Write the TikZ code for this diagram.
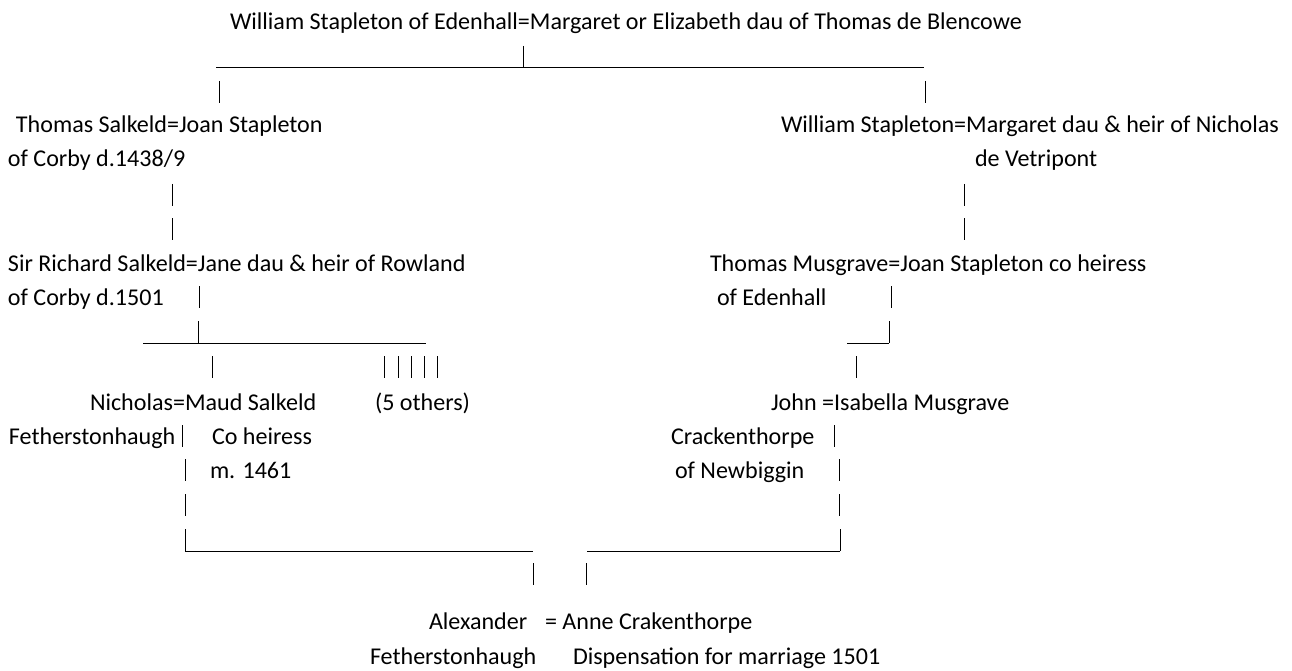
\documentclass[tikz,border=0pt]{standalone}
\usepackage{fontspec}
\setmainfont{Carlito}
\tikzset{
  txt/.style={anchor=base west, inner sep=0pt, outer sep=0pt, font=\tfont},
  rule/.style={line width=1pt, line cap=butt, black},
}
\newlength\titlewd
\newcommand\mkpipe[3]{\coordinate (#1) at (#2,#3-19); \coordinate (#1e) at (#2,#3+3); \draw[rule] (#1) -- (#1e);}
\newcommand\mkunder[4]{\coordinate (#1) at (#2,#4+3); \coordinate (#1e) at (#3,#4+3); \draw[rule] (#1) -- (#1e);}
\begin{document}
\settowidth\titlewd{\fontsize{10pt}{12pt}\selectfont William Stapleton of Edenhall=Margaret or Elizabeth dau of Thomas de Blencowe}%
\pgfmathsetmacro\fsz{10*792/\the\titlewd}%
\def\tfont{\fontsize{\fsz pt}{\fsz pt}\selectfont}%
\begin{tikzpicture}[x=1pt,y=-1pt]
\fill[white] (0,0) rectangle (1292,671);
\useasboundingbox (0,0) rectangle (1292,671);
% texts
\node[txt] (t0) at (230,30) {William Stapleton of Edenhall=Margaret or Elizabeth dau of Thomas de Blencowe};
\node[txt] (t3a) at (16,133) {Thomas Salkeld=Joan Stapleton};
\node[txt] (t3b) at (781,133) {William Stapleton=Margaret dau \& heir of Nicholas};
\node[txt] (t4a) at (8,167) {of Corby d.1438/9};
\node[txt] (t4b) at (975,167) {de Vetripont};
\node[txt] (t7a) at (8,271) {Sir Richard Salkeld=Jane dau \& heir of Rowland};
\node[txt] (t7b) at (710,271) {Thomas Musgrave=Joan Stapleton co heiress};
\node[txt] (t8a) at (8,305) {of Corby d.1501};
\node[txt] (t8b) at (717,305) {of Edenhall};
\node[txt] (t11a) at (90,410) {Nicholas=Maud Salkeld};
\node[txt] (t11b) at (375,410) {(5 others)};
\node[txt] (t11c) at (771,410) {John =Isabella Musgrave};
\node[txt] (t12a) at (9,444) {Fetherstonhaugh};
\node[txt] (t12b) at (212,444) {Co heiress};
\node[txt] (t12c) at (671,444) {Crackenthorpe};
\node[txt] (t13a) at (210,478) {m. 1461};
\node[txt] (t13b) at (675,478) {of Newbiggin};
\node[txt] (t17a) at (429,629) {Alexander};
\node[txt] (t17b) at (545,629) {= Anne Crakenthorpe};
\node[txt] (t18a) at (370,664) {Fetherstonhaugh};
\node[txt] (t18b) at (573,664) {Dispensation for marriage 1501};
% rules
\mkunder{u1}{216}{924}{65}
\mkpipe{p1}{523}{65}
\mkpipe{p2a}{219}{100}
\mkpipe{p2b}{925}{100}
\mkpipe{p5a}{172}{203}
\mkpipe{p5b}{964}{203}
\mkpipe{p6a}{172}{237}
\mkpipe{p6b}{964}{237}
\mkpipe{p8a}{199}{305}
\mkpipe{p8b}{891}{305}
\mkunder{u9a}{143}{426}{340}
\mkpipe{p9a}{198}{340}
\mkunder{u9b}{847}{889}{340}
\mkpipe{p9b}{889}{340}
\mkpipe{p10a}{212}{375}
\mkpipe{p10b}{384}{375}
\mkpipe{p10c}{398}{375}
\mkpipe{p10d}{411}{375}
\mkpipe{p10e}{424}{375}
\mkpipe{p10f}{437}{375}
\mkpipe{p10g}{856}{375}
\mkpipe{p12a}{182}{444}
\mkpipe{p12b}{834}{444}
\mkpipe{p13a}{185}{478}
\mkpipe{p13b}{839}{478}
\mkpipe{p14a}{185}{513}
\mkpipe{p14b}{839}{513}
\mkunder{u15a}{185}{533}{548}
\mkpipe{p15a}{185}{548}
\mkunder{u15b}{587}{840}{548}
\mkpipe{p15b}{840}{548}
\mkpipe{p16a}{533}{582}
\mkpipe{p16b}{586}{582}
\end{tikzpicture}
\end{document}
